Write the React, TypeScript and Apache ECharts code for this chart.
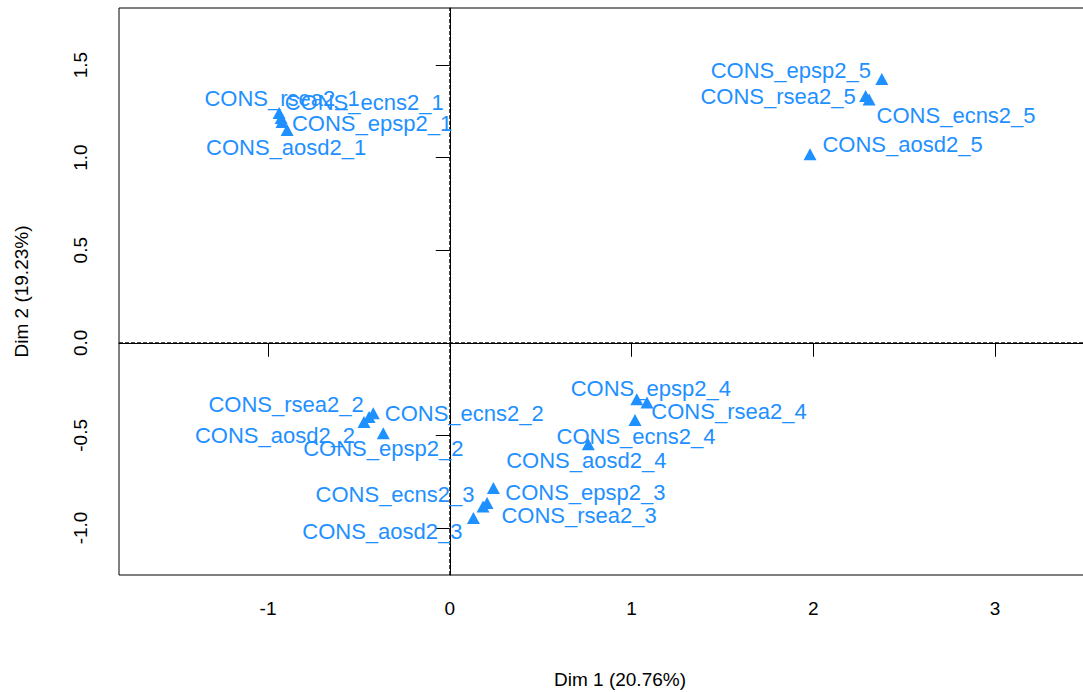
import React, { useEffect, useRef } from "react";
import * as echarts from "echarts";

const names = [
  "CONS_rsea2_1", "CONS_ecns2_1", "CONS_epsp2_1", "CONS_aosd2_1",
  "CONS_rsea2_2", "CONS_ecns2_2", "CONS_aosd2_2", "CONS_epsp2_2",
  "CONS_epsp2_3", "CONS_rsea2_3", "CONS_ecns2_3", "CONS_aosd2_3",
  "CONS_epsp2_4", "CONS_rsea2_4", "CONS_ecns2_4", "CONS_aosd2_4",
  "CONS_epsp2_5", "CONS_rsea2_5", "CONS_ecns2_5", "CONS_aosd2_5",
];
const dim1 = [
  -0.939, -0.928, -0.923, -0.895,
  -0.444, -0.421, -0.472, -0.366,
  0.240, 0.205, 0.183, 0.130,
  1.029, 1.085, 1.019, 0.762,
  2.377, 2.288, 2.307, 1.982,
];
const dim2 = [
  1.241, 1.214, 1.192, 1.149,
  -0.401, -0.381, -0.428, -0.489,
  -0.784, -0.865, -0.884, -0.946,
  -0.305, -0.322, -0.417, -0.548,
  1.424, 1.333, 1.314, 1.018,
];
const xTicks = [-1, 0, 1, 2, 3];
const yTicks = [-1, -0.5, 0, 0.5, 1, 1.5];
const xTitle = "Dim 1 (20.76%)";
const yTitle = "Dim 2 (19.23%)";

// label placement (pixel offsets of label centre from the point), layout only
const labelOffsets: [number, number][] = [
  [3, -14], [83, -15], [90, 1.5], [-1, 17.5],
  [-83, -13], [91, 0], [-89, 13], [0, 15],
  [92, 5], [92, 13], [-88, -11.5], [-91, 14],
  [14, -11], [82, 9], [1, 16], [-2, 16],
  [-91, -9], [-87.5, 1], [87, 16.5], [92.5, -10],
];

const BLUE = "#1E90FF";
const FONT = "Liberation Sans, Arial, sans-serif";
const X_MIN = -1.82;
const X_MAX = 3.693;
const Y_MIN = -1.254;
const Y_MAX = 1.808;

export default function App() {
  const ref = useRef<HTMLDivElement>(null);
  useEffect(() => {
    if (!ref.current) return;
    const chart = echarts.init(ref.current, undefined, { renderer: "svg" });
    const data = names.map((n, i) => ({
      name: n,
      value: [dim1[i], dim2[i]],
    }));
    const dashStyle = { color: "#000", type: "dashed" as const, width: 1 };
    chart.setOption({
      animation: false,
      backgroundColor: "#ffffff",
      grid: {
        left: 119,
        top: 8,
        width: 1002,
        height: 567,
        show: true,
        borderColor: "#000",
        borderWidth: 1,
        outerBoundsMode: "none",
        containLabel: false,
      },
      xAxis: {
        type: "value",
        min: X_MIN,
        max: X_MAX,
        name: xTitle,
        nameLocation: "middle",
        nameGap: 95,
        nameTextStyle: { color: "#000", fontSize: 19, fontFamily: FONT },
        splitLine: { show: false },
        axisLine: { show: true, lineStyle: { color: "#000", width: 1 } },
        axisTick: {
          show: true,
          length: 14,
          customValues: xTicks,
          lineStyle: { color: "#000", width: 1 },
        },
        axisLabel: {
          customValues: xTicks,
          color: "#000",
          fontSize: 19,
          fontFamily: FONT,
          margin: 24,
          formatter: (v: number) => String(v),
        },
      },
      yAxis: {
        type: "value",
        min: Y_MIN,
        max: Y_MAX,
        name: yTitle,
        nameLocation: "middle",
        nameGap: 88,
        nameRotate: 90,
        nameTextStyle: { color: "#000", fontSize: 19, fontFamily: FONT },
        splitLine: { show: false },
        axisLine: { show: true, lineStyle: { color: "#000", width: 1 } },
        axisTick: {
          show: true,
          length: 14,
          customValues: yTicks,
          lineStyle: { color: "#000", width: 1 },
        },
        axisLabel: {
          customValues: yTicks,
          rotate: 90,
          color: "#000",
          fontSize: 19,
          fontFamily: FONT,
          margin: 29,
          formatter: (v: number) => v.toFixed(1),
        },
      },
      series: [
        {
          type: "line",
          data: [[0, Y_MIN], [0, Y_MAX]],
          symbol: "none",
          silent: true,
          lineStyle: dashStyle,
          z: 1,
        },
        {
          type: "line",
          data: [[X_MIN, 0], [X_MAX, 0]],
          symbol: "none",
          silent: true,
          lineStyle: dashStyle,
          z: 1,
        },
        {
          type: "scatter",
          symbol: "triangle",
          symbolSize: [13, 12],
          itemStyle: { color: BLUE, opacity: 1 },
          data,
          z: 3,
          label: {
            show: true,
            position: "inside",
            formatter: (p: any) => p.name,
            color: BLUE,
            fontSize: 22,
            fontFamily: FONT,
            align: "center",
            verticalAlign: "middle",
          },
          labelLayout: (params: any) => ({
            dx: labelOffsets[params.dataIndex][0],
            dy: labelOffsets[params.dataIndex][1],
            hideOverlap: false,
          }),
          emphasis: { disabled: true },
        },
      ],
    });
    return () => chart.dispose();
  }, []);
  return (
    <div
      ref={ref}
      style={{ position: "absolute", left: 0, top: 0, width: 1083, height: 692 }}
    />
  );
}
